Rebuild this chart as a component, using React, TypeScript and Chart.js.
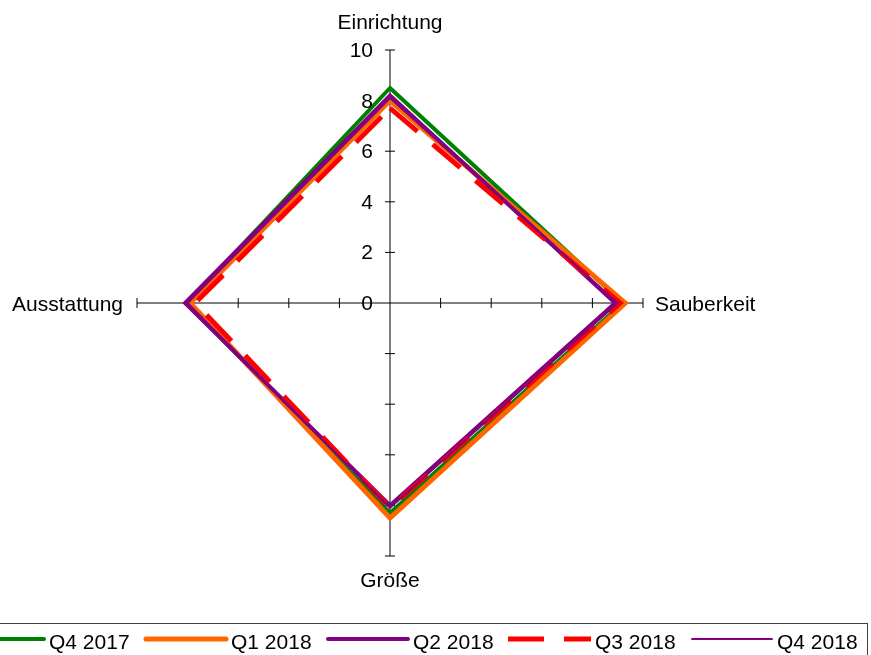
import React, { useEffect, useRef } from 'react';
import { Chart, registerables } from 'chart.js';

Chart.register(...registerables);

const categories = ['Einrichtung', 'Sauberkeit', 'Größe', 'Ausstattung'];
const seriesNames = ['Q4 2017', 'Q1 2018', 'Q2 2018', 'Q3 2018', 'Q4 2018'];
const q4_2017 = [8.5, 9.2, 8.3, 8.0];
const q1_2018 = [8.0, 9.3, 8.5, 7.9];
const q2_2018 = [8.2, 8.9, 8.0, 8.1];
const q3_2018 = [7.7, 9.1, 8.1, 7.7];
const q4_2018 = [8.1, 9.0, 8.1, 8.0];
const tickValues = [0, 2, 4, 6, 8, 10];

const seriesValues = [q4_2017, q1_2018, q2_2018, q3_2018, q4_2018];
const seriesColors = ['#008000', '#FF6600', '#800080', '#FF0000', '#800080'];
const seriesWidths = [4, 5, 4, 5, 2];
const seriesDashes: number[][] = [[], [], [], [36, 20], []];

const FONT = '21px "Liberation Sans", Arial, sans-serif';

const decor = {
  id: 'decor',
  beforeDatasetsDraw(chart: any) {
    const s = chart.scales.r;
    const ctx = chart.ctx;
    ctx.save();
    ctx.strokeStyle = '#000';
    ctx.lineWidth = 1;
    categories.forEach((_, i) => {
      const a = s.getIndexAngle(i) - Math.PI / 2;
      const px = -Math.sin(a);
      const py = Math.cos(a);
      tickValues.forEach((v) => {
        if (v === 0) return;
        const p = s.getPointPositionForValue(i, v);
        ctx.beginPath();
        ctx.moveTo(p.x - px * 5, p.y - py * 5);
        ctx.lineTo(p.x + px * 5, p.y + py * 5);
        ctx.stroke();
      });
    });
    ctx.restore();
  },
  afterDraw(chart: any) {
    const s = chart.scales.r;
    const ctx = chart.ctx;
    ctx.save();
    ctx.font = FONT;
    ctx.fillStyle = '#000';
    ctx.textBaseline = 'alphabetic';
    // tick labels
    ctx.textAlign = 'right';
    tickValues.forEach((v) => {
      const p = s.getPointPositionForValue(0, v);
      ctx.fillText(String(v), p.x - 17, p.y + 7);
    });
    // category labels
    const R = s.drawingArea;
    const offs = [
      { dx: 0, dy: -21, align: 'center' },
      { dx: 12, dy: 7.5, align: 'left' },
      { dx: 0, dy: 31, align: 'center' },
      { dx: -14, dy: 7.5, align: 'right' },
    ];
    categories.forEach((c, i) => {
      const p = s.getPointPosition(i, R);
      ctx.textAlign = offs[i].align;
      ctx.fillText(c, p.x + offs[i].dx, p.y + offs[i].dy);
    });
    // legend
    ctx.strokeStyle = '#404040';
    ctx.lineWidth = 1;
    ctx.setLineDash([]);
    ctx.strokeRect(-0.5, 623.5, 868, 60);
    const lx0 = -38;
    const step = 182;
    const lineLen = 84;
    chart.data.datasets.forEach((ds: any, i: number) => {
      const x = lx0 + i * step;
      const y = 639;
      ctx.save();
      ctx.strokeStyle = ds.borderColor;
      ctx.lineWidth = ds.borderWidth;
      const dashed = ds.borderDash && ds.borderDash.length;
      ctx.setLineDash(dashed ? ds.borderDash : []);
      ctx.lineCap = dashed ? 'butt' : 'round';
      ctx.beginPath();
      if (dashed) {
        ctx.moveTo(x, y);
        ctx.lineTo(x + lineLen - 1, y);
      } else {
        ctx.moveTo(x + 2, y);
        ctx.lineTo(x + lineLen - 2, y);
      }
      ctx.stroke();
      ctx.restore();
      ctx.textAlign = 'left';
      ctx.fillText(ds.label, x + lineLen + 3, 648.5);
    });
    ctx.restore();
  },
};

export default function App() {
  const ref = useRef<HTMLCanvasElement>(null);
  useEffect(() => {
    if (!ref.current) return;
    const chart = new Chart(ref.current, {
      type: 'radar',
      data: {
        labels: categories,
        datasets: seriesNames.map((name, i) => ({
          label: name,
          data: seriesValues[i],
          borderColor: seriesColors[i],
          backgroundColor: seriesColors[i],
          borderWidth: seriesWidths[i],
          borderDash: seriesDashes[i],
          borderJoinStyle: 'miter',
          borderCapStyle: 'butt',
          fill: false,
          pointRadius: 0,
          pointHoverRadius: 0,
          tension: 0,
          order: seriesNames.length - i,
        })),
      },
      options: {
        responsive: false,
        animation: false,
        layout: { padding: { left: 137, right: 228, top: 50, bottom: 99 } },
        plugins: {
          legend: { display: false },
          tooltip: { enabled: false },
          title: { display: false },
        },
        scales: {
          r: {
            min: 0,
            max: 10,
            beginAtZero: true,
            grid: { display: false },
            angleLines: { display: true, color: '#000', lineWidth: 1 },
            ticks: { display: false, stepSize: 2 },
            pointLabels: { display: false },
          },
        },
      } as any,
      plugins: [decor],
    });
    return () => chart.destroy();
  }, []);
  return (
    <div style={{ position: 'absolute', left: 0, top: 0, width: 871, height: 655, background: '#fff' }}>
      <canvas ref={ref} width={871} height={655} style={{ display: 'block' }} />
    </div>
  );
}
